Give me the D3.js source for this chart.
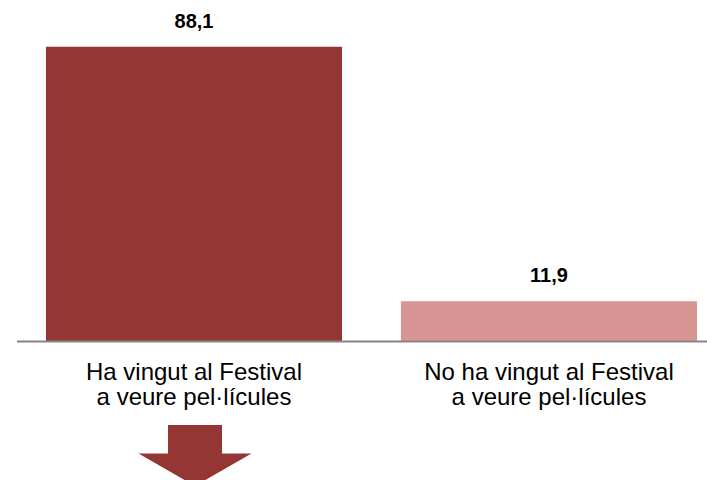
<!DOCTYPE html>
<html>
<head>
<meta charset="utf-8">
<script src="https://cdn.jsdelivr.net/npm/d3@7"></script>
<style>
  body { margin: 0; background: #fff; }
  text { font-family: "Liberation Sans", Arial, sans-serif; }
</style>
</head>
<body>
<script>
// data
var categories = ["Ha vingut al Festival\na veure pel·lícules", "No ha vingut al Festival\na veure pel·lícules"];
var values = [88.1, 11.9];
var valueLabels = ["88,1", "11,9"];
var colors = ["#943634", "#D99594"];

var width = 707, height = 480;
var baseY = 341;

var svg = d3.select("body").append("svg")
    .attr("width", width)
    .attr("height", height);

// plot runs a bit past the right edge, like the original
var x = d3.scaleBand()
    .domain(d3.range(categories.length))
    .range([16.5, 726.5])
    .paddingInner(0.166)
    .paddingOuter(0.083);

var y = d3.scaleLinear()
    .domain([0, 100])
    .range([baseY, baseY - 334]);

// bars
svg.selectAll(".bar").data(values)
  .enter().append("rect")
    .attr("class", "bar")
    .attr("x", function(d, i) { return x(i); })
    .attr("y", function(d) { return y(d); })
    .attr("width", x.bandwidth())
    .attr("height", function(d) { return baseY - y(d); })
    .attr("fill", function(d, i) { return colors[i]; });

// axis line
svg.append("line")
    .attr("x1", 17).attr("x2", width)
    .attr("y1", baseY + 0.5).attr("y2", baseY + 0.5)
    .attr("stroke", "#868686")
    .attr("stroke-width", 2);

// value labels
svg.selectAll(".val").data(values)
  .enter().append("text")
    .attr("class", "val")
    .attr("x", function(d, i) { return x(i) + x.bandwidth() / 2; })
    .attr("y", function(d) { return y(d) - 19; })
    .attr("text-anchor", "middle")
    .attr("font-size", "20px")
    .attr("font-weight", "bold")
    .attr("fill", "#000")
    .text(function(d, i) { return valueLabels[i]; });

// category labels
svg.selectAll(".cat").data(categories)
  .enter().append("text")
    .attr("class", "cat")
    .attr("text-anchor", "middle")
    .attr("font-size", "24px")
    .attr("fill", "#000")
    .each(function(d, i) {
        var cx = x(i) + x.bandwidth() / 2;
        d3.select(this).selectAll("tspan").data(d.split("\n"))
          .enter().append("tspan")
            .attr("x", cx)
            .attr("y", function(l, j) { return baseY + 39 + j * 25; })
            .text(function(l) { return l; });
    });

// down arrow under first bar
var ax = x(0) + x.bandwidth() / 2 + 1;
svg.append("path")
    .attr("d", "M" + (ax - 27) + ",425 L" + (ax + 27) + ",425 L" + (ax + 27) + ",453.5 L" +
        (ax + 56.5) + ",453.5 L" + ax + ",486 L" + (ax - 56.5) + ",453.5 L" + (ax - 27) + ",453.5 Z")
    .attr("fill", colors[0]);
</script>
</body>
</html>
